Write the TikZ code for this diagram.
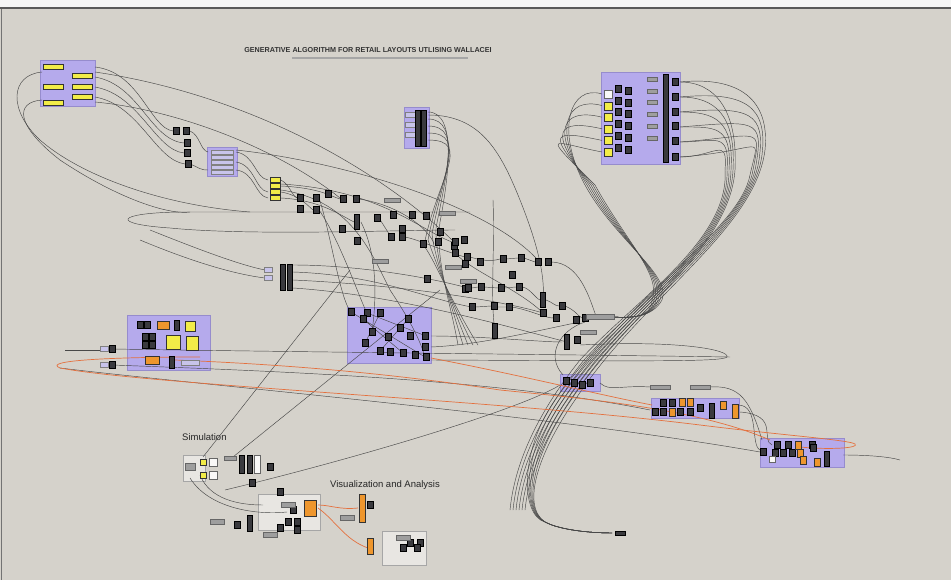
\documentclass[tikz,border=0pt]{standalone}
\usepackage{fontspec}
\setmainfont{Liberation Sans}
\usetikzlibrary{positioning}
\definecolor{canvas}{RGB}{213,210,203}
\definecolor{grpfill}{RGB}{181,170,236}
\definecolor{grpedge}{RGB}{150,140,205}
\definecolor{ghyellow}{RGB}{242,236,72}
\definecolor{ghorange}{RGB}{238,150,45}
\definecolor{wirecol}{RGB}{72,72,72}
\definecolor{owirecol}{RGB}{228,112,62}
\definecolor{cmpfill}{RGB}{58,58,62}
\definecolor{parfill}{RGB}{200,196,235}
\definecolor{panel}{RGB}{158,158,158}
\tikzset{
  grp/.style={draw=grpedge,fill=grpfill,line width=0.4pt},
  lgrp/.style={draw=gray!70,fill=canvas!55!white,line width=0.4pt},
  cmp/.style={draw=black,fill=cmpfill,minimum width=6pt,minimum height=7pt,inner sep=0pt},
  tallcmp/.style={cmp,minimum width=5pt,minimum height=15pt},
  ybox/.style={draw=black!80,fill=ghyellow,minimum width=20pt,minimum height=5pt,inner sep=0pt},
  ysq/.style={draw=black!80,fill=ghyellow,minimum size=8pt,inner sep=0pt},
  obox/.style={draw=black!80,fill=ghorange,minimum width=6pt,minimum height=8pt,inner sep=0pt},
  pbox/.style={draw=black!50,fill=parfill,minimum width=10pt,minimum height=5pt,inner sep=0pt},
  gbox/.style={draw=black!60,fill=panel,minimum width=16pt,minimum height=4pt,inner sep=0pt},
  wbox/.style={draw=black!60,fill=white!85!canvas,minimum width=8pt,minimum height=8pt,inner sep=0pt},
  wire/.style={draw=wirecol,line width=0.45pt},
  owire/.style={draw=owirecol,line width=0.7pt},
  ttl/.style={font=\fontsize{7.2}{8}\selectfont\bfseries,text=black!80,inner sep=0pt},
  lbl/.style={font=\fontsize{9.5}{11}\selectfont,text=black!85,inner sep=0pt},
}

\begin{document}
\begin{tikzpicture}[x=1pt,y=-1pt]
\useasboundingbox (0,0) rectangle (951,580);
\fill[canvas] (0,0) rectangle (951,580);
\fill[white!92!gray] (0,0) rectangle (951,7);
\fill[black!65] (0,7) rectangle (951,9);
\draw[black!55,line width=1pt] (1.5,9) -- (1.5,580);

% groups
\draw[grp] (40,60) rectangle (95,106);
\draw[grp] (207,147) rectangle (237,176);
\draw[grp] (404,107) rectangle (429,148);
\draw[grp] (601,72) rectangle (680,164);
\draw[grp] (127,315) rectangle (210,370);
\draw[grp] (347,307) rectangle (431,363);
\draw[grp] (560,374) rectangle (600,391);
\draw[grp] (651,398) rectangle (739,418);
\draw[grp] (760,438) rectangle (844,467);
\draw[lgrp] (183,455) rectangle (205,481);
\draw[lgrp] (258,494) rectangle (320,530);
\draw[lgrp] (382,531) rectangle (426,565);

% wires, left part
\draw[wire] (95,67) .. controls (140,72) and (150,128) .. (173,131);
\draw[wire] (95,77) .. controls (140,85) and (150,140) .. (184,143);
\draw[wire] (95,87) .. controls (140,95) and (155,150) .. (184,153);
\draw[wire] (95,97) .. controls (140,105) and (155,160) .. (185,164);
\draw[wire] (95,102) .. controls (180,110) and (280,150) .. (340,198);
\draw[wire] (95,72) .. controls (250,95) and (380,170) .. (452,240);
\draw[wire] (42,72) .. controls (10,75) and (8,110) .. (40,140) .. controls (80,175) and (160,205) .. (250,212);
\draw[wire] (42,100) .. controls (15,102) and (15,125) .. (60,160) .. controls (120,200) and (170,215) .. (190,212);
\draw[wire] (190,131) .. controls (200,135) and (200,150) .. (208,152);
\draw[wire] (190,164) .. controls (200,168) and (200,170) .. (208,170);
\draw[wire] (236,152) .. controls (255,155) and (255,178) .. (268,180);
\draw[wire] (236,162) .. controls (255,165) and (255,190) .. (268,192);
\draw[wire] (236,170) .. controls (255,172) and (255,196) .. (268,198);
\draw[wire] (236,150) .. controls (330,160) and (480,200) .. (536,258);
\draw[wire] (281,180) .. controls (290,185) and (292,196) .. (297,198);
\draw[wire] (281,186) .. controls (320,188) and (330,196) .. (340,199);
\draw[wire] (281,192) .. controls (300,195) and (310,208) .. (313,210);
\draw[wire] (281,198) .. controls (320,200) and (340,215) .. (354,222);
\draw[wire] (281,184) .. controls (380,190) and (420,230) .. (452,242);
\draw[wire] (281,190) .. controls (350,200) and (370,250) .. (390,290) .. controls (410,320) and (420,340) .. (425,357);
\draw[wire] (470,212) -- (180,212) .. controls (115,213) and (110,224) .. (170,228) .. controls (250,236) and (400,230) .. (455,230);
\draw[wire] (150,230) .. controls (200,250) and (240,265) .. (265,270);
\draw[wire] (140,240) .. controls (200,265) and (240,275) .. (265,278);

% wires, centre
\draw[wire] (319,198) .. controls (330,230) and (340,300) .. (351,312);
\draw[wire] (319,210) .. controls (340,240) and (360,300) .. (367,313);
\draw[wire] (361,222) .. controls (380,260) and (375,310) .. (372,332);
\draw[wire] (359,199) .. controls (400,205) and (430,230) .. (434,244);
\draw[wire] (379,218) -- (391,237);
\draw[wire] (405,237) .. controls (420,240) and (440,250) .. (465,257);
\draw[wire] (470,257) .. controls (480,260) and (490,262) .. (500,259);
\draw[wire] (506,259) -- (518,258) (524,258) -- (535,262);
\draw[wire] (551,262) .. controls (580,262) and (590,300) .. (596,316);
\draw[wire] (472,288) -- (478,287) (484,287) -- (498,288) (504,288) -- (516,287);
\draw[wire] (522,287) .. controls (530,288) and (535,298) .. (540,300);
\draw[wire] (546,300) .. controls (552,302) and (555,306) .. (559,306);
\draw[wire] (565,306) .. controls (575,310) and (578,316) .. (582,318);
\draw[wire] (455,253) .. controls (470,270) and (520,290) .. (543,313);
\draw[wire] (493,200) .. controls (495,250) and (490,300) .. (495,331);
\foreach \k in {0,...,4}
  \draw[wire] (428,112+7*\k) .. controls (458+4*\k,112+7*\k) and (448-3*\k,180) .. (440-4*\k,222+6*\k) .. controls (435,260) and (450,300) .. (458+5*\k,345);
\draw[wire] (428,115) .. controls (480,115) and (500,150) .. (520,200) .. controls (540,250) and (545,280) .. (543,300);
\draw[wire] (293,265) .. controls (350,265) and (420,275) .. (468,288);
\draw[wire] (293,272) .. controls (380,275) and (430,300) .. (472,307);
\draw[wire] (293,280) .. controls (400,285) and (500,300) .. (543,313);
\draw[wire] (293,288) .. controls (400,295) and (520,330) .. (567,342);
\draw[wire] (497,307) -- (506,307) (476,307) -- (491,306);
\draw[wire] (512,307) .. controls (530,310) and (545,318) .. (553,318);
\draw[wire] (351,312) -- (425,357) (363,319) -- (403,353) (367,313) -- (426,336);
\draw[wire] (380,313) -- (365,343) (408,319) -- (380,351);
\draw[wire] (431,336) .. controls (480,336) and (540,342) .. (562,342);
\draw[wire] (431,347) .. controls (480,345) and (540,330) .. (580,322);

% wires, top right bundles
\foreach \i [evaluate=\i as \y using 94+11.6*\i] in {0,...,5}
  \draw[wire] (602,\y) .. controls (570-4*\i,\y-10) and (555-3*\i,130) .. (585+2*\i,185) .. controls (615+2*\i,240) and (672-2*\i,275) .. (662-2*\i,300) .. controls (652,318) and (630,318) .. (614,317);
\foreach \i [evaluate=\i as \y using 82+15*\i] in {0,...,5}
  \draw[wire] (680,\y) .. controls (740+5*\i,\y-6) and (770-2*\i,100+6*\i) .. (765-3*\i,150+5*\i) .. controls (755-3*\i,230) and (640-3*\i,300) .. (575-4*\i,400) .. controls (540-4*\i,450) and (520,505+2*\i) .. (545,522) .. controls (560,530) and (590,533) .. (612,533);
\foreach \i [evaluate=\i as \y using 82+15*\i] in {0,...,5}
  \draw[wire] (680,\y) .. controls (715,\y) and (738-2*\i,110+5*\i) .. (735-2*\i,170) .. controls (730,240) and (650-3*\i,300) .. (600-4*\i,360) .. controls (560-4*\i,410) and (530-3*\i,460) .. (525-3*\i,510);

% wires, long ones across the middle
\draw[wire] (580,345) .. controls (680,340) and (730,350) .. (727,357) .. controls (722,362) and (650,361) .. (431,360);
\draw[wire] (65,350) -- (100,350);
\draw[wire] (112,349) .. controls (300,352) and (600,355) .. (730,357);
\draw[wire] (60,368) .. controls (200,385) and (550,415) .. (760,452);
\draw[wire] (112,365) .. controls (300,372) and (500,380) .. (650,410);
\draw[wire] (738,405) .. controls (760,405) and (750,445) .. (760,450);
\draw[wire] (740,412) .. controls (780,415) and (760,440) .. (772,445);
\draw[wire] (710,387) .. controls (740,385) and (750,400) .. (762,440);
\draw[wire] (650,387) .. controls (620,385) and (610,392) .. (600,383);
\draw[wire] (843,455) .. controls (870,455) and (890,457) .. (900,460);
\draw[wire] (563,375) .. controls (545,355) and (560,330) .. (585,322);
\draw[wire] (203,457) -- (350,270);
\draw[wire] (233,457) -- (440,290);
\draw[wire] (225,490) .. controls (350,460) and (520,410) .. (560,385);
\draw[wire] (200,475) .. controls (210,500) and (240,505) .. (263,505);
\draw[wire] (190,478) .. controls (210,510) and (260,515) .. (287,512);

% orange wires
\draw[owire] (200,357) .. controls (120,357) and (40,360) .. (60,368) .. controls (150,385) and (500,400) .. (700,425) .. controls (780,435) and (850,440) .. (855,444) .. controls (860,448) and (830,450) .. (800,447);
\draw[owire] (175,360) .. controls (300,365) and (400,375) .. (500,390) .. controls (600,400) and (700,410) .. (770,440);
\draw[owire] (431,358) .. controls (520,375) and (600,395) .. (652,405);
\draw[owire] (318,508) .. controls (335,520) and (345,540) .. (368,548);
\draw[owire] (318,505) .. controls (330,505) and (340,510) .. (358,508);

% components
\foreach \x/\y [count=\n] in {53/67,82/76,53/87,82/87,82/97,53/103}
  \node[ybox] (yl\n) at (\x,\y) {};
\foreach \x/\y [count=\n] in {176/131,186/131,187/143,187/153,188/164}
  \node[cmp] (ta\n) at (\x,\y) {};
\foreach \y [count=\n] in {152,157,162,167,172}
  \node[pbox,minimum width=22pt,minimum height=3.5pt] (pa\n) at (222,\y) {};
\foreach \y [count=\n] in {180,186,192,198}
  \node[ybox,minimum width=10pt] (ys\n) at (275,\y) {};
\foreach \x/\y [count=\n] in {300/198,316/198,300/209,316/210,328/194,343/199,356/199,
    377/218,342/229,357/241,391/237,402/237,402/229,423/244,438/242,454/246,465/264,
    427/279,465/289,455/242,464/240,455/253,467/257,480/262,503/259,521/258,538/262,
    548/262,512/275,468/288,481/287,501/288,519/287,562/306,543/313,585/318,472/307,
    494/306,509/307,556/318,576/320,577/340,412/215,426/216,440/232,393/215}
  \node[cmp] (cc\n) at (\x,\y) {};
\foreach \x/\y [count=\n] in {357/222,543/300,495/331,567/342}
  \node[tallcmp] (ct\n) at (\x,\y) {};
\foreach \x/\y [count=\n] in {447/213,453/267,468/281,588/332,380/261,392/200}
  \node[gbox] (sl\n) at (\x,\y) {};
\node[gbox,minimum width=28pt,minimum height=5pt] (slider) at (600,317) {};
\foreach \y [count=\n] in {115,125,135}
  \node[pbox] (pb\n) at (410,\y) {};
\node[tallcmp,minimum height=36pt] (g3a) at (418,128) {};
\node[tallcmp,minimum height=36pt] (g3b) at (424,128) {};
\foreach \y [count=\n] in {270,278}
  \node[pbox,minimum width=8pt] (pc\n) at (268,\y) {};
\node[tallcmp,minimum height=26pt] (lc1) at (283,277) {};
\node[tallcmp,minimum height=26pt] (lc2) at (290,277) {};

% top right group
\node[wbox] (tw) at (608,94) {};
\foreach \y [count=\n] in {106,117,129,140,152}
  \node[ysq] (tr\n) at (608,\y) {};
\foreach \y [count=\n] in {89,101,112,124,136,148}
  {\node[cmp] (tra\n) at (618,\y) {};
   \node[cmp] (trb\n) at (628,\y+2) {};
   \node[gbox,minimum width=10pt] (trc\n) at (652,\y-10) {};}
\node[tallcmp,minimum height=88pt] (trcol) at (666,118) {};
\foreach \y [count=\n] in {82,97,112,126,141,157}
  \node[cmp] (tro\n) at (675,\y) {};

% left middle group
\foreach \x/\y [count=\n] in {140/325,147/325,145/337,152/337,145/345,152/345}
  \node[cmp] (lm\n) at (\x,\y) {};
\node[obox,minimum width=12pt] (lmo1) at (163,325) {};
\node[tallcmp,minimum height=10pt] (lmt1) at (177,325) {};
\node[ysq,minimum size=10pt] (lmy1) at (190,326) {};
\node[ysq,minimum size=14pt] (lmy2) at (173,342) {};
\node[ysq,minimum width=12pt,minimum height=14pt] (lmy3) at (192,343) {};
\node[obox,minimum width=14pt] (lmo2) at (152,360) {};
\node[tallcmp,minimum height=12pt] (lmt2) at (172,362) {};
\node[pbox,minimum width=18pt] (lmp) at (190,363) {};
\node[pbox,minimum width=8pt] (lp1) at (104,349) {};
\node[cmp] (lp1b) at (112,349) {};
\node[pbox,minimum width=8pt] (lp2) at (104,365) {};
\node[cmp] (lp2b) at (112,365) {};

% centre group
\foreach \x/\y [count=\n] in {351/312,367/313,380/313,363/319,408/319,372/332,400/328,
    388/337,410/336,425/336,365/343,380/351,390/352,403/353,415/355,425/347,426/357}
  \node[cmp] (cg\n) at (\x,\y) {};

% lower right groups
\foreach \x/\y [count=\n] in {566/381,574/383,582/385,590/383}
  \node[cmp] (g7\n) at (\x,\y) {};
\node[gbox,minimum width=20pt] (g8s1) at (660,387) {};
\node[gbox,minimum width=20pt] (g8s2) at (700,387) {};
\foreach \x/\y [count=\n] in {663/403,672/403,655/412,663/412,680/412,690/412,700/408}
  \node[cmp] (g8c\n) at (\x,\y) {};
\foreach \x/\y [count=\n] in {682/402,690/402,672/412,723/405}
  \node[obox] (g8o\n) at (\x,\y) {};
\node[tallcmp] (g8t1) at (712,411) {};
\node[obox,minimum height=14pt] (g8t2) at (735,411) {};
\foreach \x/\y [count=\n] in {777/445,788/445,812/445,763/452,775/453,783/453,792/453,813/448}
  \node[cmp] (g9c\n) at (\x,\y) {};
\foreach \x/\y [count=\n] in {798/445,800/453,803/460,817/462}
  \node[obox] (g9o\n) at (\x,\y) {};
\node[wbox,minimum size=6pt] (g9w) at (772,459) {};
\node[tallcmp] (g9t) at (827,459) {};
\node[cmp,minimum width=10pt,minimum height=4pt] (endc) at (620,533) {};

% simulation and analysis
\node[gbox,minimum width=10pt,minimum height=7pt] (s1) at (190,467) {};
\node[ysq,minimum size=6pt] (s2) at (203,462) {};
\node[ysq,minimum size=6pt] (s3) at (203,475) {};
\node[wbox] (s4) at (213,462) {};
\node[wbox] (s5) at (213,475) {};
\node[gbox,minimum width=12pt] (s6) at (230,458) {};
\node[tallcmp,minimum height=18pt] (s7) at (242,464) {};
\node[tallcmp,minimum height=18pt] (s8) at (250,464) {};
\node[wbox,minimum width=6pt,minimum height=18pt] (s9) at (257,464) {};
\foreach \x/\y [count=\n] in {270/467,252/483,280/492,237/525,288/522,297/522,280/528,297/530,293/510,370/505,410/543,420/543,403/548,417/548}
  \node[cmp] (sa\n) at (\x,\y) {};
\foreach \x/\y [count=\n] in {288/505,217/522,347/518,270/535,403/538}
  \node[gbox,minimum width=14pt,minimum height=5pt] (sg\n) at (\x,\y) {};
\node[tallcmp,minimum height=16pt] (sat) at (250,523) {};
\node[obox,minimum width=12pt,minimum height=16pt] (so1) at (310,508) {};
\node[obox,minimum height=28pt] (so2) at (362,508) {};
\node[obox,minimum height=16pt] (so3) at (370,546) {};

% texts
\node[ttl] (title) at (368,50) {GENERATIVE ALGORITHM FOR RETAIL LAYOUTS UTLISING WALLACEI};
\draw[black!35,line width=1.6pt] (title.south west) ++(48,5) -- ++(176,0);
\node[lbl,anchor=west] (sim) at (182,437) {Simulation};
\node[lbl,anchor=west] (vis) at (330,485) {Visualization and Analysis};
\end{tikzpicture}
\end{document}
